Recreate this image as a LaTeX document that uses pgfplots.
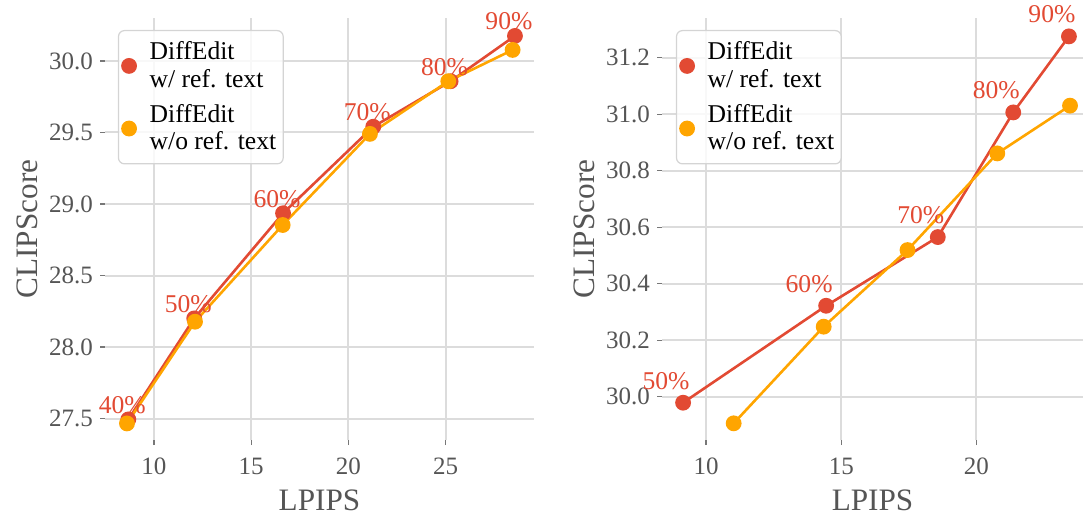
\documentclass[border=0pt]{standalone}
\usepackage{fontspec}
\setmainfont{Liberation Serif}
\usepackage{pgfplots}
\pgfplotsset{compat=1.18}
\definecolor{cred}{HTML}{E24A33}
\definecolor{corange}{HTML}{FFA500}
\definecolor{gridc}{HTML}{DCDCDC}
\definecolor{tickc}{HTML}{555555}
\definecolor{legc}{HTML}{D4D4D4}

\pgfplotstableread{
x y l
8.68 27.494 40
12.07 28.20 50
16.64 28.935 60
21.28 29.54 70
25.26 29.858 80
28.57 30.175 90
}\leftred
\pgfplotstableread{
x y
8.61 27.466
12.11 28.177
16.62 28.853
21.11 29.49
25.14 29.858
28.45 30.077
}\leftorange
\pgfplotstableread{
x y l
9.15 29.979 50
14.44 30.322 60
18.57 30.565 70
21.36 31.006 80
23.42 31.275 90
}\rightred
\pgfplotstableread{
x y
11.02 29.906
14.35 30.248
17.45 30.519
20.77 30.861
23.46 31.03
}\rightorange

\pgfplotsset{
  mystyle/.style={
    scale only axis, anchor=south west, clip=false,
    axis line style={draw=none},
    grid=major, major grid style={line width=1pt, color=gridc},
    tick align=outside, major tick length=2.5pt,
    major tick style={color=tickc!80, line width=0.6pt},
    tick pos=left,
    /pgf/number format/assume math mode=true,
    tick label style={font=\fontsize{12.5}{14}\selectfont, color=tickc},
    y tick label style={/pgf/number format/fixed, /pgf/number format/fixed zerofill, /pgf/number format/precision=1},
    x tick label style={yshift=-3pt},
    label style={font=\fontsize{15.6}{18}\selectfont, color=tickc},
    xlabel={LPIPS}, ylabel={CLIPScore},
    xlabel style={at={(axis description cs:0.5,-0.142)}, anchor=center},
    legend style={draw=legc, line width=0.6pt, rounded corners=3pt, fill=white, fill opacity=0.8, text opacity=1,
      font=\fontsize{12.8}{13.8}\selectfont, text=black, inner xsep=2pt, inner ysep=4pt,
      cells={align=left, anchor=west}, nodes={inner sep=1.5pt}, row sep=4pt, column sep=5.5pt, anchor=north west},
    legend image code/.code={\draw[##1, fill opacity=1, draw opacity=1] plot coordinates {(0cm,0cm)};},
  },
  redline/.style={cred, line width=1.3pt, mark=*, mark size=3.3pt, mark options={solid},
    nodes near coords={\pgfplotspointmeta\%}, point meta=explicit symbolic,
    every node near coord/.append style={font=\fontsize{12.8}{14}\selectfont, color=cred, anchor=base}},
  orangeline/.style={corange, line width=1.3pt, mark=*, mark size=3.3pt, mark options={solid}},
}

\begin{document}
\begin{tikzpicture}
\path[use as bounding box] (0pt,0pt) rectangle (543pt,-258pt);
\begin{axis}[mystyle,
  at={(52.5pt,-220pt)}, width=214.5pt, height=211pt,
  xmin=7.48, xmax=29.55, ymin=27.35, ymax=30.30,
  xtick={10,15,20,25}, ytick={27.5,28,28.5,29,29.5,30},
  ylabel style={at={(axis description cs:-0.18,0.5)}, anchor=center},
  legend style={at={(axis description cs:0.03,0.9716)}},
]
\addplot[redline, every node near coord/.append style={xshift=-3pt, yshift=3pt}] table[x=x, y=y, meta=l] {\leftred};
\addlegendentry{DiffEdit\\w/ ref. text}
\addplot[orangeline] table[x=x, y=y] {\leftorange};
\addlegendentry{DiffEdit\\w/o ref. text}
\end{axis}
\begin{axis}[mystyle,
  at={(331pt,-220pt)}, width=210.5pt, height=211pt,
  xmin=8.37, xmax=23.94, ymin=29.847, ymax=31.34,
  xtick={10,15,20}, ytick={30,30.2,30.4,30.6,30.8,31,31.2},
  ylabel style={at={(axis description cs:-0.185,0.5)}, anchor=center},
  legend style={at={(axis description cs:0.033,0.9716)}},
]
\addplot[redline, every node near coord/.append style={xshift=-8.5pt, yshift=6.8pt}] table[x=x, y=y, meta=l] {\rightred};
\addlegendentry{DiffEdit\\w/ ref. text}
\addplot[orangeline] table[x=x, y=y] {\rightorange};
\addlegendentry{DiffEdit\\w/o ref. text}
\end{axis}
\end{tikzpicture}
\end{document}
